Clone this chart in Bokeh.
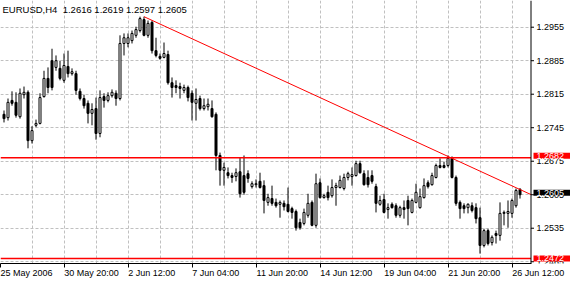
from bokeh.plotting import figure
from bokeh.models import (LinearAxis, FixedTicker, Grid, Span, BoxAnnotation,
                          Label, Range1d, ColumnDataSource, AllLabels)
from bokeh.embed import file_html
from bokeh.resources import INLINE

SYMBOL = "EURUSD,H4"

OPEN = [1.2773, 1.2766, 1.2802, 1.2798, 1.2768, 1.2814, 1.2819, 1.2718, 1.2750, 1.2754,
        1.2810, 1.2848, 1.2885, 1.2871, 1.2869, 1.2844, 1.2873, 1.2858, 1.2858, 1.2821,
        1.2806, 1.2796, 1.2775, 1.2785, 1.2733, 1.2810, 1.2802, 1.2812, 1.2817, 1.2806,
        1.2921, 1.2921, 1.2927, 1.2938, 1.2948, 1.2971, 1.2938, 1.2965, 1.2906, 1.2894,
        1.2892, 1.2898, 1.2839, 1.2833, 1.2831, 1.2823, 1.2829, 1.2817, 1.2796, 1.2806,
        1.2785, 1.2789, 1.2785, 1.2773, 1.2687, 1.2656, 1.2651, 1.2645, 1.2643, 1.2653,
        1.2645, 1.2649, 1.2622, 1.2626, 1.2633, 1.2624, 1.2589, 1.2597, 1.2589, 1.2585,
        1.2587, 1.2585, 1.2576, 1.2570, 1.2547, 1.2545, 1.2562, 1.2589, 1.2541, 1.2630,
        1.2599, 1.2610, 1.2603, 1.2620, 1.2620, 1.2618, 1.2641, 1.2643, 1.2645, 1.2670,
        1.2649, 1.2641, 1.2645, 1.2622, 1.2585, 1.2595, 1.2574, 1.2585, 1.2582, 1.2562,
        1.2578, 1.2593, 1.2568, 1.2589, 1.2578, 1.2599, 1.2630, 1.2626, 1.2641, 1.2666,
        1.2666, 1.2666, 1.2681, 1.2641, 1.2589, 1.2582, 1.2578, 1.2582, 1.2578, 1.2557,
        1.2499, 1.2530, 1.2505, 1.2524, 1.2520, 1.2566, 1.2566, 1.2566, 1.2582, 1.2616]

HIGH = [1.2781, 1.2806, 1.2821, 1.2819, 1.2827, 1.2831, 1.2823, 1.2748, 1.2762, 1.2817,
        1.2864, 1.2871, 1.2910, 1.2896, 1.2885, 1.2900, 1.2906, 1.2869, 1.2864, 1.2827,
        1.2814, 1.2802, 1.2796, 1.2808, 1.2823, 1.2817, 1.2819, 1.2825, 1.2823, 1.2938,
        1.2942, 1.2942, 1.2948, 1.2956, 1.2977, 1.2977, 1.2969, 1.2969, 1.2933, 1.2900,
        1.2923, 1.2906, 1.2850, 1.2844, 1.2839, 1.2835, 1.2833, 1.2823, 1.2827, 1.2812,
        1.2806, 1.2806, 1.2802, 1.2777, 1.2693, 1.2672, 1.2662, 1.2651, 1.2660, 1.2683,
        1.2687, 1.2656, 1.2633, 1.2637, 1.2651, 1.2635, 1.2607, 1.2624, 1.2597, 1.2593,
        1.2593, 1.2620, 1.2580, 1.2574, 1.2555, 1.2576, 1.2607, 1.2593, 1.2649, 1.2639,
        1.2607, 1.2624, 1.2637, 1.2630, 1.2645, 1.2649, 1.2653, 1.2662, 1.2676, 1.2676,
        1.2656, 1.2656, 1.2656, 1.2628, 1.2603, 1.2607, 1.2587, 1.2589, 1.2587, 1.2582,
        1.2593, 1.2603, 1.2597, 1.2628, 1.2618, 1.2639, 1.2635, 1.2651, 1.2670, 1.2681,
        1.2674, 1.2687, 1.2685, 1.2645, 1.2593, 1.2587, 1.2587, 1.2589, 1.2587, 1.2578,
        1.2534, 1.2534, 1.2520, 1.2530, 1.2589, 1.2572, 1.2593, 1.2597, 1.2618, 1.2619]

LOW = [1.2756, 1.2760, 1.2791, 1.2766, 1.2764, 1.2806, 1.2702, 1.2712, 1.2746, 1.2752,
       1.2808, 1.2817, 1.2823, 1.2864, 1.2844, 1.2839, 1.2850, 1.2854, 1.2814, 1.2802,
       1.2785, 1.2754, 1.2750, 1.2720, 1.2725, 1.2787, 1.2798, 1.2808, 1.2791, 1.2802,
       1.2896, 1.2913, 1.2921, 1.2933, 1.2944, 1.2936, 1.2933, 1.2900, 1.2892, 1.2887,
       1.2890, 1.2835, 1.2808, 1.2817, 1.2806, 1.2817, 1.2800, 1.2760, 1.2760, 1.2781,
       1.2781, 1.2781, 1.2766, 1.2656, 1.2624, 1.2624, 1.2639, 1.2630, 1.2633, 1.2599,
       1.2605, 1.2630, 1.2618, 1.2620, 1.2618, 1.2566, 1.2582, 1.2582, 1.2578, 1.2557,
       1.2572, 1.2568, 1.2555, 1.2530, 1.2532, 1.2541, 1.2557, 1.2539, 1.2536, 1.2597,
       1.2597, 1.2593, 1.2599, 1.2582, 1.2618, 1.2614, 1.2635, 1.2624, 1.2643, 1.2649,
       1.2624, 1.2620, 1.2628, 1.2568, 1.2582, 1.2566, 1.2555, 1.2576, 1.2557, 1.2557,
       1.2555, 1.2541, 1.2566, 1.2587, 1.2576, 1.2597, 1.2618, 1.2624, 1.2639, 1.2660,
       1.2660, 1.2662, 1.2639, 1.2582, 1.2555, 1.2566, 1.2566, 1.2568, 1.2545, 1.2482,
       1.2495, 1.2499, 1.2499, 1.2503, 1.2509, 1.2541, 1.2536, 1.2557, 1.2578, 1.2597]

CLOSE = [1.2764, 1.2798, 1.2796, 1.2771, 1.2817, 1.2819, 1.2718, 1.2739, 1.2754, 1.2808,
         1.2848, 1.2829, 1.2829, 1.2885, 1.2848, 1.2875, 1.2858, 1.2862, 1.2823, 1.2806,
         1.2791, 1.2775, 1.2783, 1.2733, 1.2808, 1.2802, 1.2812, 1.2819, 1.2806, 1.2921,
         1.2933, 1.2933, 1.2942, 1.2950, 1.2973, 1.2938, 1.2963, 1.2906, 1.2896, 1.2890,
         1.2900, 1.2839, 1.2829, 1.2829, 1.2827, 1.2829, 1.2808, 1.2798, 1.2804, 1.2785,
         1.2791, 1.2794, 1.2768, 1.2687, 1.2656, 1.2662, 1.2645, 1.2641, 1.2651, 1.2607,
         1.2610, 1.2639, 1.2628, 1.2628, 1.2620, 1.2593, 1.2599, 1.2587, 1.2582, 1.2589,
         1.2580, 1.2570, 1.2568, 1.2536, 1.2536, 1.2568, 1.2587, 1.2541, 1.2628, 1.2599,
         1.2603, 1.2599, 1.2620, 1.2624, 1.2635, 1.2641, 1.2649, 1.2647, 1.2670, 1.2651,
         1.2626, 1.2626, 1.2633, 1.2587, 1.2593, 1.2568, 1.2578, 1.2578, 1.2562, 1.2578,
         1.2574, 1.2576, 1.2593, 1.2610, 1.2601, 1.2624, 1.2622, 1.2645, 1.2666, 1.2662,
         1.2662, 1.2681, 1.2641, 1.2587, 1.2576, 1.2576, 1.2585, 1.2572, 1.2555, 1.2499,
         1.2530, 1.2503, 1.2516, 1.2520, 1.2566, 1.2568, 1.2570, 1.2593, 1.2614, 1.2605]

TIME_LABELS = ["25 May 2006", "30 May 20:00", "2 Jun 12:00", "7 Jun 04:00", "11 Jun 20:00",
               "14 Jun 12:00", "19 Jun 04:00", "21 Jun 20:00", "26 Jun 12:00"]
TIME_LABEL_BARS = [-0.87, 15, 31, 47, 63, 79, 95, 111, 127]
GRID_BARS = [7, 15, 23, 31, 39, 47, 55, 63, 71, 79, 87, 95, 103, 111, 119, 127]
PRICE_TICKS = [1.2465, 1.2535, 1.2605, 1.2675, 1.2745, 1.2815, 1.2885, 1.2955]
LEVELS = [1.2682, 1.2472]
TREND_BARS = [35, 111]
TREND_PRICES = [1.2977, 1.2685]

FONT = "Liberation Sans"
FS = "9px"

# Liberation Sans advance widths (1/1000 em), used to left-align time labels at their tick
ADV = {" ": 278, ":": 278, "M": 833, "a": 556, "y": 500, "J": 500, "u": 556, "n": 556}


def left_aligned(t):
    w = sum(ADV.get(ch, 556) for ch in t)
    return "\u00a0" * round(w / 278) + t


bars = list(range(len(OPEN)))

X0 = -0.875            # 4 px per bar, bar i centred on pixel 4*i + 3.5
PX = 4.0               # pixels per bar
W, H, BOTTOM = 570, 281, 18
CHART_END = 131.75     # right edge of the price area (the price scale lies right of it)

p = figure(width=W, height=H, output_backend="svg", toolbar_location=None,
           x_range=Range1d(X0, X0 + W / PX), y_range=Range1d(1.24613, 1.30108),
           x_axis_location=None, y_axis_location=None,
           min_border_left=0, min_border_top=0, min_border_right=0, min_border_bottom=BOTTOM,
           background_fill_color="white", border_fill_color="white")
p.outline_line_color = None
p.grid.visible = False

xg = Grid(dimension=0, ticker=FixedTicker(ticks=GRID_BARS), grid_line_color="#c0c0c0",
          grid_line_dash="3 2", grid_line_width=1)
yg = Grid(dimension=1, ticker=FixedTicker(ticks=PRICE_TICKS), grid_line_color="#c0c0c0",
          grid_line_dash="3 2", grid_line_width=1)
p.add_layout(xg)
p.add_layout(yg)
# the price-scale strip is blank (no grid)
p.add_layout(BoxAnnotation(left=CHART_END + 0.125, fill_color="white", fill_alpha=1.0,
                           line_color=None, level="underlay"))

labels = {b: (t if i == 0 else left_aligned(t))
          for i, (b, t) in enumerate(zip(TIME_LABEL_BARS, TIME_LABELS))}
xaxis = LinearAxis(ticker=FixedTicker(ticks=TIME_LABEL_BARS), bounds=(X0, CHART_END),
                   major_label_overrides=labels, major_label_policy=AllLabels(),
                   major_label_standoff=0, major_tick_in=0, major_tick_out=4,
                   minor_tick_line_color=None, axis_line_color="black",
                   major_tick_line_color="black",
                   major_label_text_font=FONT, major_label_text_font_size=FS,
                   major_label_text_color="black")
p.add_layout(xaxis, "below")

# price scale: rule, ticks and labels
p.add_layout(Span(location=CHART_END, dimension="height", line_color="black", line_width=1))
p.segment(x0=[CHART_END] * len(PRICE_TICKS), x1=[CHART_END + 3 / PX] * len(PRICE_TICKS),
          y0=PRICE_TICKS, y1=PRICE_TICKS, line_color="black", line_width=1)
for t in PRICE_TICKS:
    p.add_layout(Label(x=CHART_END, y=t, x_offset=5.5, text=f"{t:.4f}",
                       text_font=FONT, text_font_size=FS, text_color="black",
                       text_baseline="middle", text_align="left"))

src = ColumnDataSource(dict(
    x=bars,
    top=[max(o, c) for o, c in zip(OPEN, CLOSE)],
    bottom=[min(o, c) for o, c in zip(OPEN, CLOSE)],
    high=HIGH, low=LOW,
    fill=["white" if c >= o else "black" for o, c in zip(OPEN, CLOSE)],
))
p.segment(x0="x", y0="low", x1="x", y1="high", source=src, line_color="black", line_width=1)
p.vbar(x="x", width=0.5, top="top", bottom="bottom", source=src, fill_color="fill",
       line_color="black", line_width=1)

slope = (TREND_PRICES[1] - TREND_PRICES[0]) / (TREND_BARS[1] - TREND_BARS[0])
y_end = TREND_PRICES[0] + slope * (CHART_END - TREND_BARS[0])
p.line([TREND_BARS[0], CHART_END], [TREND_PRICES[0], y_end], line_color="red", line_width=1)

p.segment(x0=[X0] * len(LEVELS), x1=[CHART_END] * len(LEVELS), y0=LEVELS, y1=LEVELS,
          line_color="red", line_width=1.5)

# price boxes on the price scale
for lv, bg, off in [(LEVELS[0], "red", 2), (LEVELS[1], "red", 0), (CLOSE[-1], "black", 2)]:
    p.add_layout(Label(x=CHART_END, y=lv, x_offset=2.5, y_offset=off, text=f"{lv:.4f}",
                       text_font=FONT, text_font_size=FS, text_color="white",
                       text_baseline="middle", text_align="left",
                       background_fill_color=bg, background_fill_alpha=1.0,
                       padding=dict(left=3, right=7, top=0, bottom=0)))

header = (f"{SYMBOL}\u00a0\u00a0{OPEN[-1]:.4f} {HIGH[-1]:.4f} "
          f"{LOW[-1]:.4f} {CLOSE[-1]:.4f}")
p.add_layout(Label(x=X0, y=p.y_range.end, x_offset=2, y_offset=-3, text=header,
                   text_font=FONT, text_font_size="9.5px", text_color="black",
                   text_baseline="top", text_align="left"))

open("out.html", "w").write(file_html(p, INLINE))
